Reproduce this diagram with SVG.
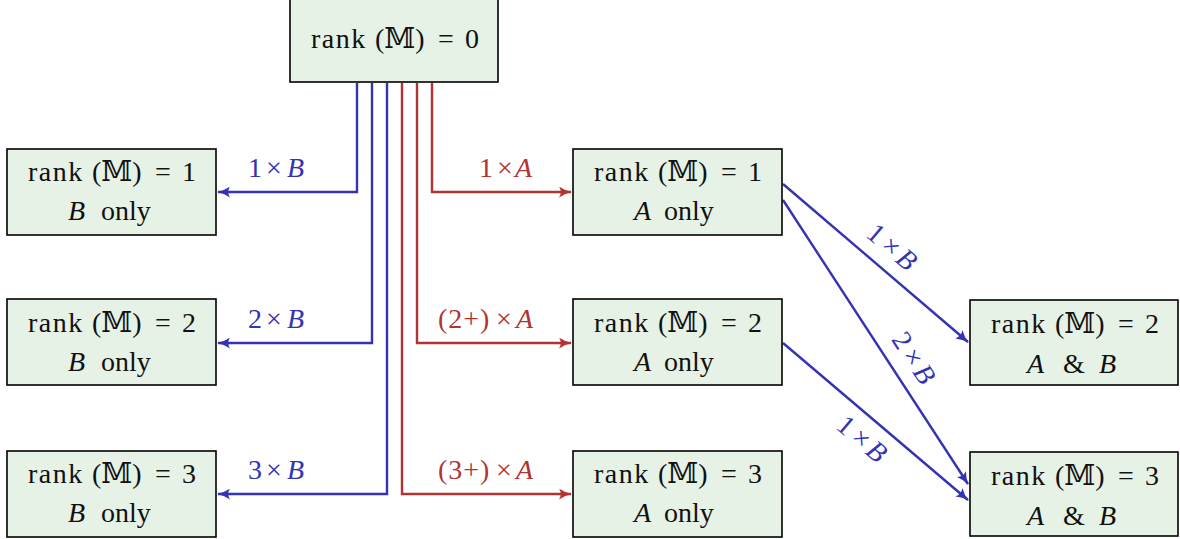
<svg xmlns="http://www.w3.org/2000/svg" width="1180" height="539" viewBox="0 0 1180 539">
  <style>
    .box { fill: #e5f2e5; stroke: #000; stroke-width: 1.6; }
    text { font-family: "Liberation Serif", "DejaVu Serif", serif; font-size: 28px; }
    .t { fill: #111; }
    .i { font-style: italic; }
    .rk { letter-spacing: 1.5px; }
    .pl { letter-spacing: 1px; }
    .b { stroke: #3333b3; stroke-width: 2.4; fill: none; }
    .r { stroke: #b33333; stroke-width: 2.4; fill: none; }
    .lb { fill: #3333b3; }
    .lr { fill: #b33333; }
    .mid { text-anchor: middle; }
  </style>
  <defs>
    <marker id="ab" viewBox="0 0 13 11" refX="12" refY="5.5" markerWidth="13" markerHeight="11" markerUnits="userSpaceOnUse" orient="auto">
      <path d="M0,0 Q6,4.3 13,5.5 Q6,6.7 0,11 Q3.5,5.5 0,0 Z" fill="#3333b3"/>
    </marker>
    <marker id="ar" viewBox="0 0 13 11" refX="12" refY="5.5" markerWidth="13" markerHeight="11" markerUnits="userSpaceOnUse" orient="auto">
      <path d="M0,0 Q6,4.3 13,5.5 Q6,6.7 0,11 Q3.5,5.5 0,0 Z" fill="#b33333"/>
    </marker>
  </defs>

  <!-- connectors -->
  <g id="edges">
    <path class="b" d="M357,83 V192 H218" marker-end="url(#ab)"/>
    <path class="b" d="M372,83 V343 H218" marker-end="url(#ab)"/>
    <path class="b" d="M387,83 V494 H218" marker-end="url(#ab)"/>
    <path class="r" d="M432,83 V192 H571" marker-end="url(#ar)"/>
    <path class="r" d="M417,83 V343 H571" marker-end="url(#ar)"/>
    <path class="r" d="M402,83 V494 H571" marker-end="url(#ar)"/>
    <path class="b" d="M783,184 L968,342" marker-end="url(#ab)"/>
    <path class="b" d="M783,200 L968,484" marker-end="url(#ab)"/>
    <path class="b" d="M783,343 L968,500" marker-end="url(#ab)"/>

    <text class="lb" y="177"><tspan x="248">1</tspan><tspan x="266">×</tspan><tspan x="287" class="i">B</tspan></text>
    <text class="lb" y="328"><tspan x="248">2</tspan><tspan x="266">×</tspan><tspan x="287" class="i">B</tspan></text>
    <text class="lb" y="479"><tspan x="248">3</tspan><tspan x="266">×</tspan><tspan x="287" class="i">B</tspan></text>
    <text class="lr" y="177"><tspan x="479">1</tspan><tspan x="497">×</tspan><tspan x="515" class="i">A</tspan></text>
    <text class="lr" y="328"><tspan x="438" class="pl">(2+)</tspan><tspan x="496">×</tspan><tspan x="516" class="i">A</tspan></text>
    <text class="lr" y="479"><tspan x="438" class="pl">(3+)</tspan><tspan x="496">×</tspan><tspan x="516" class="i">A</tspan></text>

    <text class="lb mid" transform="translate(886,254) rotate(40.5)">1<tspan dx="5">×</tspan><tspan dx="4" class="i">B</tspan></text>
    <text class="lb mid" transform="translate(906,363) rotate(57)">2<tspan dx="5">×</tspan><tspan dx="4" class="i">B</tspan></text>
    <text class="lb mid" transform="translate(856,446) rotate(40.5)">1<tspan dx="5">×</tspan><tspan dx="4" class="i">B</tspan></text>
  </g>

  <!-- nodes -->
  <g id="n0">
    <rect class="box" x="290" y="-1" width="208" height="83"/>
    <text class="t" y="48"><tspan x="311" class="rk">rank</tspan><tspan x="375">(𝕄)</tspan><tspan x="438">=</tspan><tspan x="465">0</tspan></text>
  </g>
  <g id="nb1">
    <rect class="box" x="7" y="149" width="209" height="86"/>
    <text class="t" y="181"><tspan x="28" class="rk">rank</tspan><tspan x="92">(𝕄)</tspan><tspan x="155">=</tspan><tspan x="182">1</tspan></text>
    <text class="t" y="220"><tspan x="68" class="i">B</tspan><tspan x="101">only</tspan></text>
  </g>
  <g id="nb2">
    <rect class="box" x="7" y="299" width="209" height="86"/>
    <text class="t" y="332"><tspan x="28" class="rk">rank</tspan><tspan x="92">(𝕄)</tspan><tspan x="155">=</tspan><tspan x="182">2</tspan></text>
    <text class="t" y="371"><tspan x="68" class="i">B</tspan><tspan x="101">only</tspan></text>
  </g>
  <g id="nb3">
    <rect class="box" x="7" y="451" width="209" height="86"/>
    <text class="t" y="483"><tspan x="28" class="rk">rank</tspan><tspan x="92">(𝕄)</tspan><tspan x="155">=</tspan><tspan x="182">3</tspan></text>
    <text class="t" y="522"><tspan x="68" class="i">B</tspan><tspan x="101">only</tspan></text>
  </g>
  <g id="na1">
    <rect class="box" x="573" y="149" width="209" height="86"/>
    <text class="t" y="181"><tspan x="594" class="rk">rank</tspan><tspan x="658">(𝕄)</tspan><tspan x="721">=</tspan><tspan x="748">1</tspan></text>
    <text class="t" y="220"><tspan x="634" class="i">A</tspan><tspan x="664">only</tspan></text>
  </g>
  <g id="na2">
    <rect class="box" x="573" y="299" width="209" height="86"/>
    <text class="t" y="332"><tspan x="594" class="rk">rank</tspan><tspan x="658">(𝕄)</tspan><tspan x="721">=</tspan><tspan x="748">2</tspan></text>
    <text class="t" y="371"><tspan x="634" class="i">A</tspan><tspan x="664">only</tspan></text>
  </g>
  <g id="na3">
    <rect class="box" x="573" y="451" width="209" height="86"/>
    <text class="t" y="483"><tspan x="594" class="rk">rank</tspan><tspan x="658">(𝕄)</tspan><tspan x="721">=</tspan><tspan x="748">3</tspan></text>
    <text class="t" y="522"><tspan x="634" class="i">A</tspan><tspan x="664">only</tspan></text>
  </g>
  <g id="nab2">
    <rect class="box" x="970" y="300" width="208" height="85"/>
    <text class="t" y="333"><tspan x="991" class="rk">rank</tspan><tspan x="1055">(𝕄)</tspan><tspan x="1118">=</tspan><tspan x="1145">2</tspan></text>
    <text class="t" y="373"><tspan x="1027" class="i">A</tspan><tspan x="1063">&amp;</tspan><tspan x="1099" class="i">B</tspan></text>
  </g>
  <g id="nab3">
    <rect class="box" x="970" y="452" width="208" height="84"/>
    <text class="t" y="485"><tspan x="991" class="rk">rank</tspan><tspan x="1055">(𝕄)</tspan><tspan x="1118">=</tspan><tspan x="1145">3</tspan></text>
    <text class="t" y="525"><tspan x="1027" class="i">A</tspan><tspan x="1063">&amp;</tspan><tspan x="1099" class="i">B</tspan></text>
  </g>
</svg>
